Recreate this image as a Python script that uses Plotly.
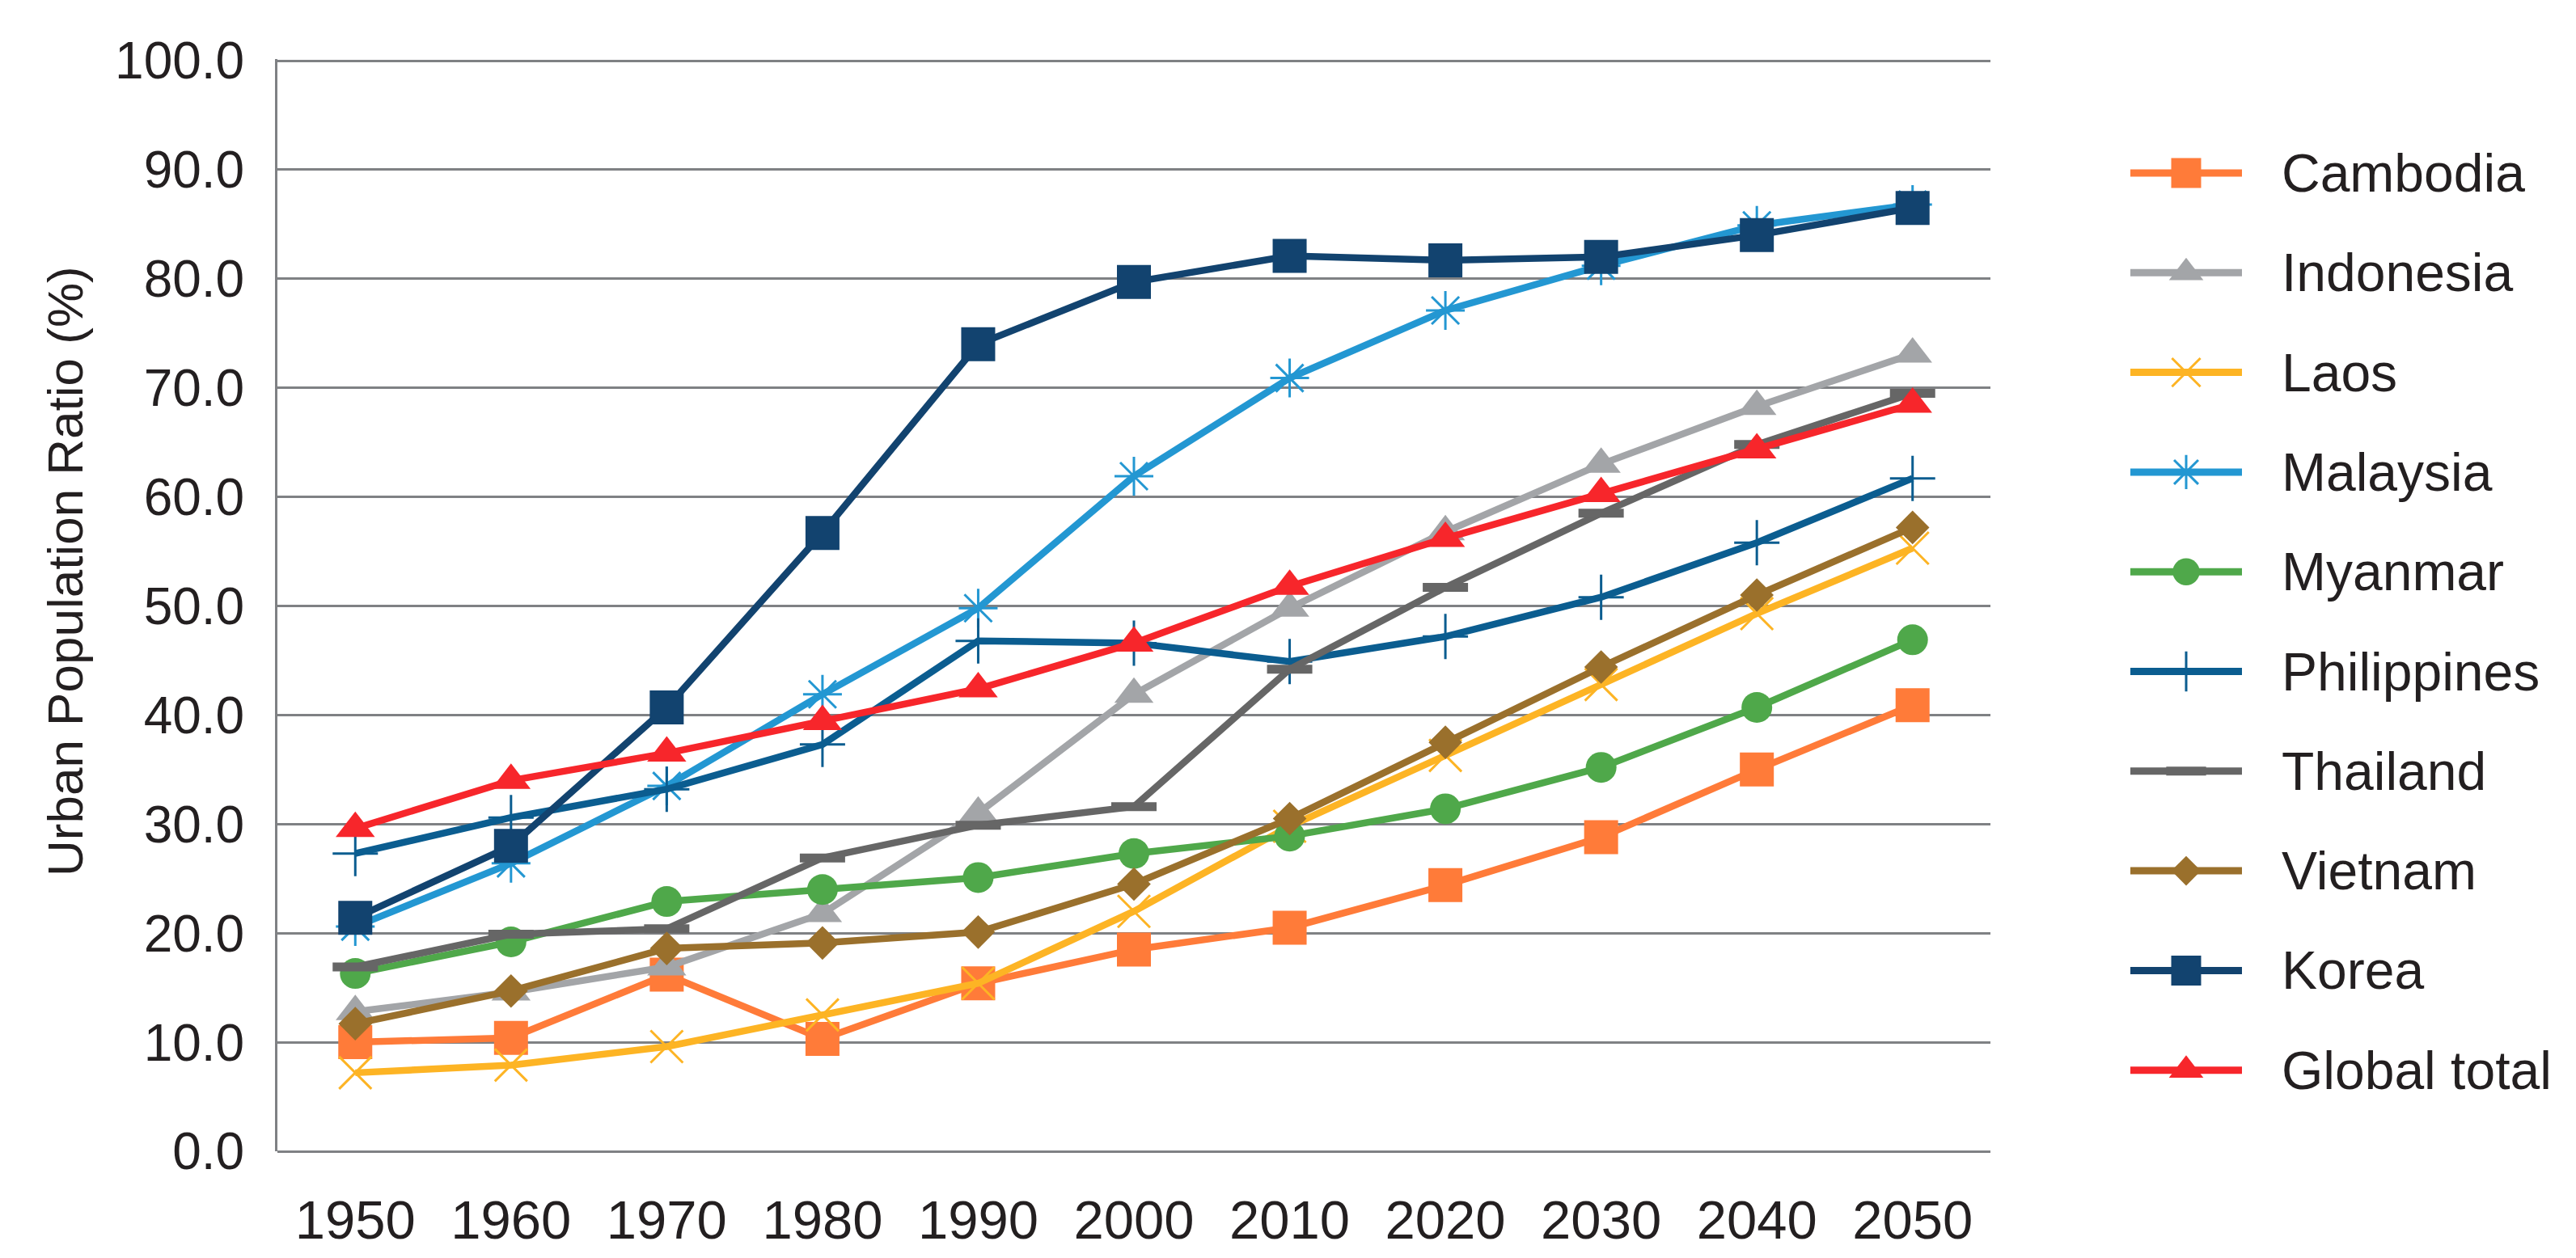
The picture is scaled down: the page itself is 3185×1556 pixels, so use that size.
import plotly.graph_objects as go

years = [1950, 1960, 1970, 1980, 1990, 2000, 2010, 2020, 2030, 2040, 2050]

cambodia = [10.0, 10.4, 16.2, 10.3, 15.4, 18.5, 20.5, 24.4, 28.8, 35.0, 40.9]
indonesia = [12.8, 14.6, 16.9, 21.8, 31.0, 41.9, 49.8, 56.8, 63.0, 68.3, 73.1]
laos = [7.2, 7.9, 9.6, 12.5, 15.4, 22.0, 29.8, 36.3, 42.8, 49.3, 55.3]
malaysia = [20.6, 26.4, 33.5, 41.9, 49.8, 61.9, 70.9, 77.1, 81.2, 84.9, 86.8]
myanmar = [16.3, 19.2, 22.9, 24.0, 25.1, 27.3, 28.9, 31.4, 35.2, 40.7, 46.9]
philippines = [27.3, 30.6, 33.2, 37.3, 46.8, 46.6, 44.9, 47.2, 50.8, 55.8, 61.7]
thailand = [16.9, 19.9, 20.4, 26.9, 29.9, 31.6, 44.2, 51.7, 58.5, 64.8, 69.5]
vietnam = [11.7, 14.7, 18.6, 19.1, 20.1, 24.5, 30.5, 37.5, 44.4, 51.0, 57.2]
korea = [21.4, 28.0, 40.7, 56.7, 74.0, 79.7, 82.1, 81.7, 82.0, 84.0, 86.5]
global_total = [29.6, 34.0, 36.5, 39.4, 42.4, 46.6, 51.8, 56.2, 60.3, 64.3, 68.5]

y_ticks = [0, 10, 20, 30, 40, 50, 60, 70, 80, 90, 100]
y_title = "Urban Population Ratio (%)"

series = [
    ("Cambodia", cambodia, "#FF7B39", "square", 42),
    ("Indonesia", indonesia, "#A3A5A8", "triangle-up", 42),
    ("Laos", laos, "#FDB424", "x-thin-open", 40),
    ("Malaysia", malaysia, "#2397D2", "asterisk-open", 40),
    ("Myanmar", myanmar, "#4FA84A", "circle", 38),
    ("Philippines", philippines, "#0B5D90", "cross-thin-open", 40),
    ("Thailand", thailand, "#666666", "line-ew-open", 40),
    ("Vietnam", vietnam, "#9A702C", "diamond", 32),
    ("Korea", korea, "#12436F", "square", 42),
    ("Global total", global_total, "#F7262B", "triangle-up", 42),
]

W, H = 3185, 1556
# plot area in pixels
PL, PR, PT, PB = 335, 2453, 65, 1416
# legend geometry in pixels
LG_X0, LG_X1, LG_TXT = 2626, 2764, 2811
LG_ROW0, LG_STEP = 206, 123.3
LG_SCALE = 0.88

font = "Liberation Sans, Arial, Helvetica, sans-serif"
txt_color = "#231F20"
grid = "#7F8184"


def marker_line(sym, color):
    if sym.endswith("open"):
        return dict(color=color, width=11 if sym == "line-ew-open" else 3)
    return dict(color=color, width=0)


fig = go.Figure()
for i, (name, vals, color, sym, size) in enumerate(series):
    fig.add_trace(go.Scatter(
        x=years, y=vals, name=name, mode="lines+markers", showlegend=False,
        line=dict(color=color, width=8.5),
        marker=dict(symbol=sym, size=size, color=color, opacity=1,
                    line=marker_line(sym, color)),
        xaxis="x", yaxis="y",
    ))
# legend samples (line with marker in the middle)
for i, (name, vals, color, sym, size) in enumerate(series):
    fig.add_trace(go.Scatter(
        x=[0, 0.5, 1], y=[i, i, i], mode="lines+markers", showlegend=False,
        hoverinfo="skip",
        line=dict(color=color, width=9),
        marker=dict(symbol=sym, size=[0, size * LG_SCALE, 0], color=color, opacity=1,
                    line=marker_line(sym, color)),
        xaxis="x2", yaxis="y2",
    ))
    fig.add_annotation(
        text=name, xref="paper", x=LG_TXT / W, xanchor="left",
        yref="y2", y=i, yanchor="middle", showarrow=False,
        font=dict(size=66, color=txt_color, family=font),
    )

fig.add_annotation(
    text=y_title, textangle=-90, xref="paper", x=72 / W, xanchor="center",
    yref="paper", y=1 - 699 / H, yanchor="middle", showarrow=False,
    font=dict(size=62, color=txt_color, family=font),
)

fig.update_layout(
    width=W, height=H,
    paper_bgcolor="white", plot_bgcolor="white",
    margin=dict(l=0, r=0, t=0, b=0, autoexpand=False),
    font=dict(family=font, size=62, color=txt_color),
    showlegend=False,
    xaxis=dict(
        domain=[PL / W, PR / W], anchor="y",
        range=[1945, 2055], tickvals=years, ticktext=[str(y) for y in years],
        showgrid=False, showline=False, zeroline=False, ticks="",
        ticklabelstandoff=40, tickfont=dict(size=67), automargin=False,
    ),
    yaxis=dict(
        domain=[1 - PB / H, 1 - PT / H], anchor="x",
        range=[0, 100.15], tickvals=y_ticks, tickformat=".1f",
        showgrid=True, gridcolor=grid, gridwidth=3,
        showline=True, linecolor=grid, linewidth=3,
        zeroline=True, zerolinecolor=grid, zerolinewidth=3,
        ticks="", ticklabelstandoff=25, tickfont=dict(size=64), automargin=False,
    ),
    xaxis2=dict(
        domain=[LG_X0 / W, LG_X1 / W], anchor="y2", range=[0, 1],
        visible=False, fixedrange=True,
    ),
    yaxis2=dict(
        domain=[0, 1], anchor="x2",
        range=[(H - LG_ROW0) / LG_STEP, -LG_ROW0 / LG_STEP],
        visible=False, fixedrange=True,
    ),
)

fig.write_html("out.html")
